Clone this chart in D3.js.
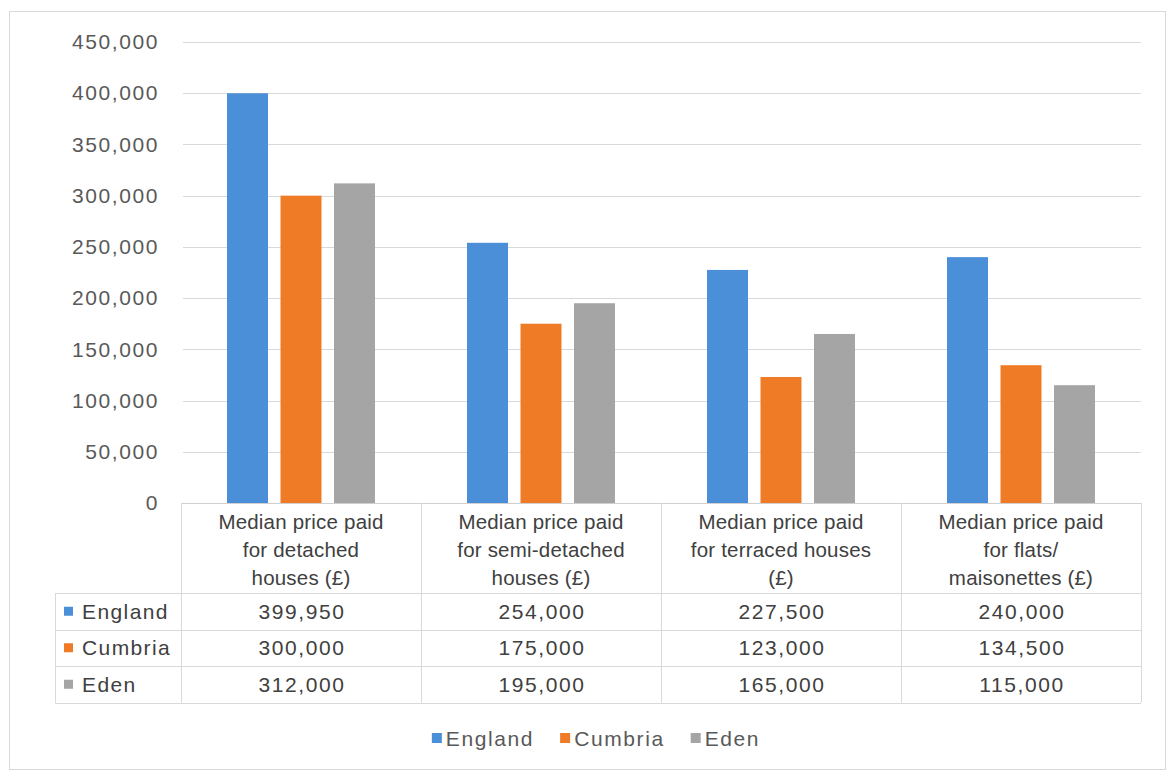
<!DOCTYPE html>
<html>
<head>
<meta charset="utf-8">
<script src="https://cdn.jsdelivr.net/npm/d3@7"></script>
<style>
  html, body { margin: 0; padding: 0; background: #ffffff; }
  svg { display: block; font-family: "Liberation Sans", Arial, sans-serif; }
</style>
</head>
<body>
<svg id="chart" width="1174" height="776"></svg>
<script>
// Median prices paid by dwelling type
const categories = [
  ["Median price paid", "for detached", "houses (£)"],
  ["Median price paid", "for semi-detached", "houses (£)"],
  ["Median price paid", "for terraced houses", "(£)"],
  ["Median price paid", "for flats/", "maisonettes (£)"]
];
const seriesNames = ["England", "Cumbria", "Eden"];
const england = [399950, 254000, 227500, 240000];
const cumbria = [300000, 175000, 123000, 134500];
const eden = [312000, 195000, 165000, 115000];
const yTicks = [0, 50000, 100000, 150000, 200000, 250000, 300000, 350000, 400000, 450000];
const colors = ["#4a8fd8", "#f07b26", "#a5a5a5"];

const series = [england, cumbria, eden];
const svg = d3.select("#chart");
const fmt = d3.format(",");

// frame
svg.append("rect")
  .attr("x", 9.5).attr("y", 11.5).attr("width", 1156).attr("height", 758)
  .attr("fill", "#fff").attr("stroke", "#d9d9d9").attr("stroke-width", 1);

const plotLeft = 181, plotRight = 1141;
const y = d3.scaleLinear().domain([0, 450000]).range([503, 42]);
const x0 = d3.scaleBand().domain(d3.range(categories.length)).range([plotLeft, plotRight]);
const x1 = d3.scaleBand().domain(seriesNames).range([0, x0.bandwidth()])
  .paddingInner(0.234).paddingOuter(0.86);

// value axis labels and gridlines
const yAxis = d3.axisLeft(y).tickValues(yTicks).tickFormat(fmt).tickSize(0).tickPadding(22);
const gy = svg.append("g").attr("transform", `translate(${plotLeft},0)`).call(yAxis);
gy.select(".domain").remove();
gy.selectAll("text")
  .attr("fill", "#595959").attr("font-size", 21).attr("letter-spacing", 1.6)
  .attr("font-family", "Liberation Sans, Arial, sans-serif");
svg.append("g").selectAll("line").data(yTicks.filter(d => d > 0)).join("line")
  .attr("x1", plotLeft + 2).attr("x2", plotRight)
  .attr("y1", d => Math.round(y(d)) + 0.5).attr("y2", d => Math.round(y(d)) + 0.5)
  .attr("stroke", "#d9d9d9").attr("stroke-width", 1);

// bars
const groups = svg.append("g").selectAll("g").data(categories).join("g")
  .attr("transform", (d, i) => `translate(${x0(i)},0)`);
groups.selectAll("rect")
  .data((d, i) => seriesNames.map((s, k) => ({ s, k, v: series[k][i] })))
  .join("rect")
  .attr("x", d => x1(d.s)).attr("width", x1.bandwidth())
  .attr("y", d => y(d.v)).attr("height", d => y(0) - y(d.v))
  .attr("fill", d => colors[d.k]);

// data table
const tableLeft = 55;
const headerBottom = 593, rowH = 36.5;
const rowLines = [503, headerBottom, headerBottom + rowH, headerBottom + 2 * rowH, headerBottom + 3 * rowH];
const lineColor = "#d9d9d9";
const tbl = svg.append("g");
tbl.selectAll("line.h").data(rowLines).join("line")
  .attr("x1", (d, i) => i === 0 ? plotLeft : tableLeft).attr("x2", plotRight)
  .attr("y1", d => Math.round(d) + 0.5).attr("y2", d => Math.round(d) + 0.5)
  .attr("stroke", (d, i) => i === 0 ? "#d0d0d0" : lineColor);
const colEdges = d3.range(categories.length + 1).map(i => i < categories.length ? x0(i) : plotRight);
tbl.selectAll("line.v").data(colEdges).join("line")
  .attr("x1", d => d + 0.5).attr("x2", d => d + 0.5)
  .attr("y1", 503).attr("y2", rowLines[4])
  .attr("stroke", lineColor);
tbl.append("line")
  .attr("x1", tableLeft + 0.5).attr("x2", tableLeft + 0.5)
  .attr("y1", headerBottom).attr("y2", rowLines[4]).attr("stroke", lineColor);

// header labels
categories.forEach((lines, i) => {
  const t = tbl.append("text")
    .attr("x", x0(i) + x0.bandwidth() / 2).attr("y", 529)
    .attr("text-anchor", "middle").attr("font-size", 20.5).attr("letter-spacing", 0.2)
    .attr("fill", "#404040");
  lines.forEach((ln, j) => t.append("tspan")
    .attr("x", x0(i) + x0.bandwidth() / 2).attr("dy", j === 0 ? 0 : 28).text(ln));
});

// row labels and values
seriesNames.forEach((name, k) => {
  const cy = headerBottom + rowH * k + rowH / 2;
  tbl.append("rect").attr("x", 64).attr("y", cy - 4.5).attr("width", 9).attr("height", 9)
    .attr("fill", colors[k]);
  tbl.append("text").attr("x", 82).attr("y", cy).attr("dy", "0.36em")
    .attr("font-size", 21).attr("letter-spacing", 1.4).attr("fill", "#404040").text(name);
  series[k].forEach((v, i) => {
    tbl.append("text").attr("x", x0(i) + x0.bandwidth() / 2 + 1).attr("y", cy).attr("dy", "0.36em")
      .attr("text-anchor", "middle").attr("font-size", 21).attr("letter-spacing", 1.6)
      .attr("fill", "#404040").text(fmt(v));
  });
});

// legend
const legend = svg.append("g");
let lx = 0;
seriesNames.forEach((name, k) => {
  const g = legend.append("g").attr("transform", `translate(${lx},0)`);
  g.append("rect").attr("x", 0).attr("y", -5).attr("width", 10).attr("height", 10).attr("fill", colors[k]);
  const t = g.append("text").attr("x", 14).attr("dy", "0.36em").attr("font-size", 21)
    .attr("letter-spacing", 1.6).attr("fill", "#595959").text(name);
  const w = 14 + t.node().getComputedTextLength();
  lx += w + 26;
});
const totalW = lx - 26;
legend.attr("transform", `translate(${596 - totalW / 2},738)`);
</script>
</body>
</html>
